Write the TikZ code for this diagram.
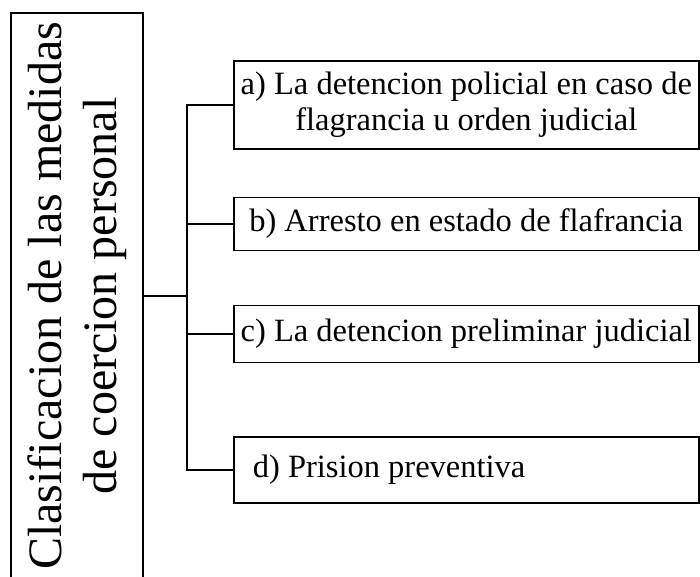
\documentclass[tikz,border=0pt]{standalone}
\usepackage{fontspec}
\setmainfont{Liberation Serif}
\usetikzlibrary{positioning}

\begin{document}
\begin{tikzpicture}
    [x=1pt, y=-1pt,
     Caja/.style={draw, line width=1.6pt, anchor=west, minimum width=465pt,
                  inner sep=2pt, align=center, font=\fontsize{32.5}{36}\selectfont},
     Titulo/.style={draw, line width=1.6pt, rotate=90, minimum width=566pt,
                  minimum height=132pt, align=center, font=\fontsize{48}{55}\selectfont},
     Rama/.style={line width=1.8pt}
    ]
\useasboundingbox (0,0) rectangle (700,576);
\clip (0,0) rectangle (700,576);

%title box on the left, cut by the page border
\node[Titulo] (clasif) at (77,296) {Clasificacion de las medidas\\de coercion personal};

%the four kinds of measures
\node[Caja, minimum height=88pt] (a) at (233,105) {a) La detencion policial en caso de\\flagrancia u orden judicial};
\node[Caja, minimum height=53pt] (b) at (233,224) {b) Arresto en estado de flafrancia};
\node[Caja, minimum height=57pt] (c) at (233,334) {c) La detencion preliminar judicial};
\node[Caja, minimum height=66pt, text width=427pt, inner xsep=19pt, align=flush left] (d) at (233,470) {d) Prision preventiva};

%connectors
\coordinate (tronco) at (187,296);
\draw[Rama] (clasif.south) -- (tronco);
\foreach \caja in {a,b,c,d}
    \draw[Rama] (tronco) |- (\caja.west);

\end{tikzpicture}
\end{document}
